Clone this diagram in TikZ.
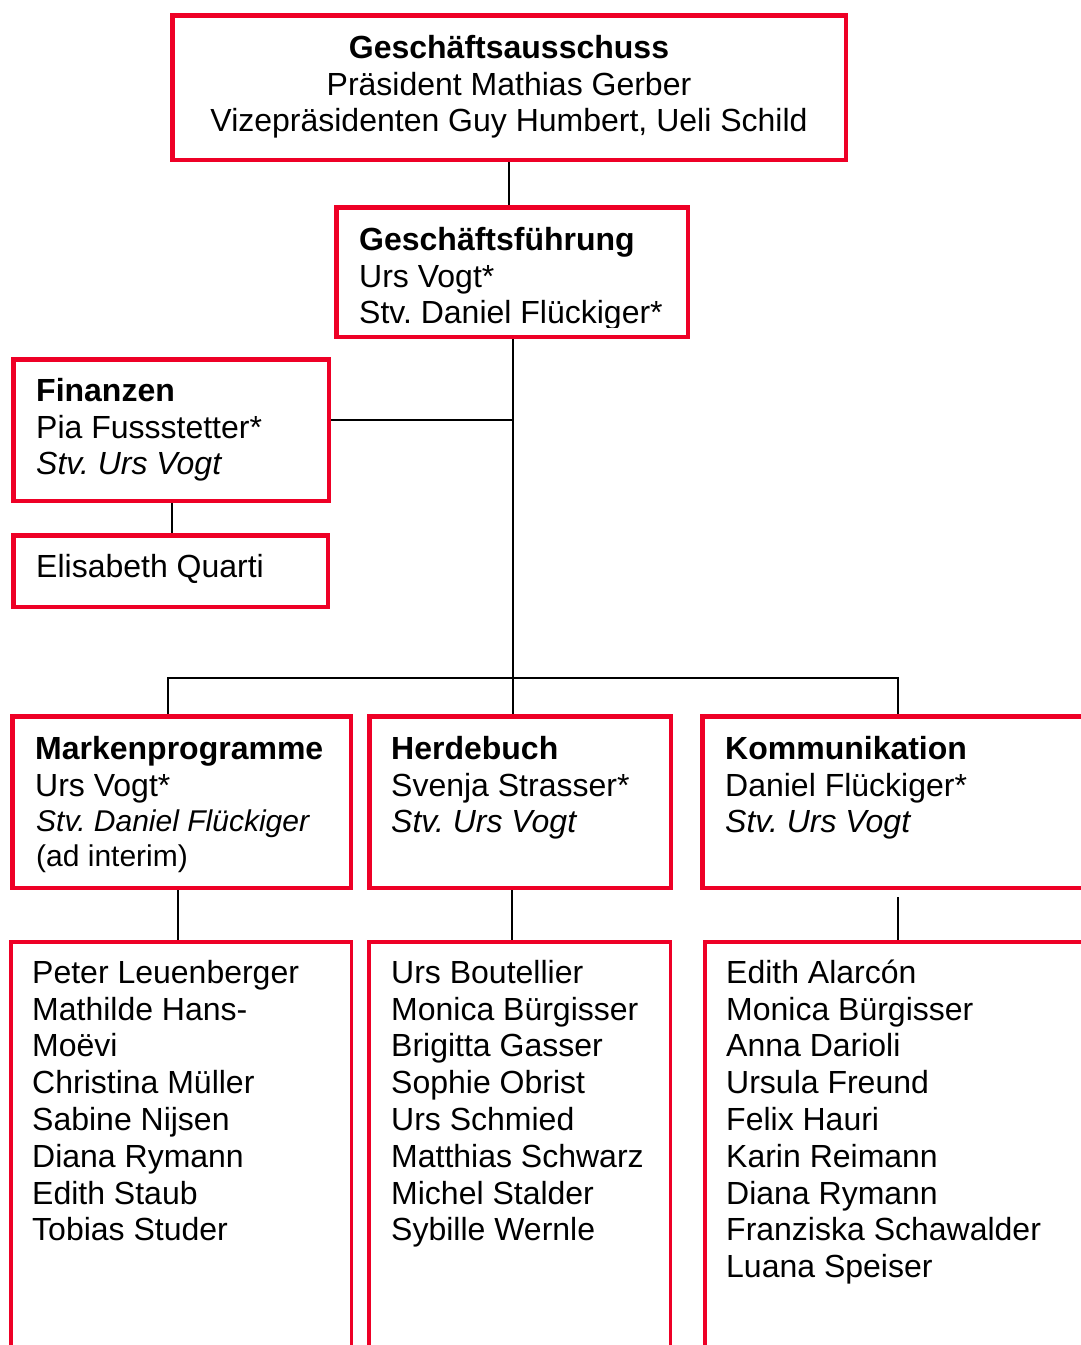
\documentclass[tikz,border=0pt]{standalone}
\usepackage{fontspec}
\setmainfont{Liberation Sans}
\frenchspacing
\definecolor{boxred}{RGB}{238,0,38}
\tikzset{
  box/.style={draw=boxred, line width=4.5pt, rectangle, inner sep=0pt},
  listbox/.style={draw=boxred, line width=3.5pt, rectangle, inner sep=0pt},
  conn/.style={draw=black, line width=2pt},
  txt/.style={inner sep=0pt, anchor=north west, align=left, font=\fontsize{32}{36.8}\selectfont},
  ctxt/.style={inner sep=0pt, anchor=north, align=center, font=\fontsize{32}{36.8}\selectfont},
  smtxt/.style={inner sep=0pt, anchor=north west, align=left, font=\fontsize{30}{35}\selectfont},
}
\begin{document}
\begin{tikzpicture}[x=1pt, y=-1pt]
\useasboundingbox (0,0) rectangle (1081,1345);
\clip (0,0) rectangle (1081,1345);

% boxes
\node[box, minimum width=673.5pt, minimum height=144.5pt] (gfa) at (509,87.5) {};
\node[box, minimum width=351.5pt, minimum height=129.5pt] (gf) at (512,272) {};
\node[box, minimum width=315.5pt, minimum height=141.5pt] (fin) at (171,430) {};
\node[box, minimum width=314.5pt, minimum height=71.5pt] (eq) at (170.5,571) {};
\node[box, minimum width=338.5pt, minimum height=171.5pt] (mp) at (181.5,802) {};
\node[box, minimum width=301.5pt, minimum height=171.5pt] (hb) at (520,802) {};
\node[box, minimum width=420pt, minimum height=171.5pt] (ko) at (912.25,802) {};
\node[listbox, minimum width=340.5pt, minimum height=478pt] (mpl) at (181,1180.75) {};
\node[listbox, minimum width=301.5pt, minimum height=478pt] (hbl) at (519.5,1180.75) {};
\node[listbox, minimum width=420pt, minimum height=478pt] (kol) at (914.75,1180.75) {};

% junction coordinates
\coordinate (finj) at (513,420);
\coordinate (barL) at (168,678);
\coordinate (barR) at (898,678);

% connectors
\draw[conn] (gfa.south) -- (gfa.south |- gf.north);
\draw[conn] ([xshift=1pt]gf.south) -- ([xshift=1pt]gf.south |- hb.north);
\draw[conn] (fin.east |- finj) -- (finj);
\draw[conn] ([xshift=1pt]fin.south) -- ([xshift=1pt]fin.south |- eq.north);
\draw[conn] (barL |- mp.north) -- (barL) -- (barR) -- (barR |- ko.north);
\draw[conn] ([xshift=-3.5pt]mp.south) -- ([xshift=-3.5pt]mp.south |- mpl.north);
\draw[conn] ([xshift=-8pt]hb.south) -- ([xshift=-8pt]hb.south |- hbl.north);
\draw[conn] ([yshift=-7pt]ko.south -| barR) -- (barR |- kol.north);

% texts
\node[ctxt] (gfa-t) at (509,32.24) {\strut\textbf{Geschäftsausschuss}\\Präsident Mathias Gerber\\Vizepräsidenten Guy Humbert, Ueli Schild};
\begin{scope}
\clip (340,210) rectangle (684,327);
\node[txt] (gf-t) at (359,224.24) {\strut\textbf{Geschäftsführung}\\Urs Vogt*\\Stv. Daniel Flückiger*};
\end{scope}
\node[txt] (fin-t) at (36,375.24) {\strut\textbf{Finanzen}\\Pia Fussstetter*\\\textit{Stv. Urs Vogt}};
\node[txt] (eq-t) at (36,551.24) {\strut Elisabeth Quarti};
\node[txt] (mp-t) at (35,733.24) {\strut\textbf{Markenprogramme}\\Urs Vogt*};
\node[smtxt] (mp-s) at (36,806.5) {\strut\textit{Stv. Daniel Flückiger}\\(ad interim)};
\node[txt] (hb-t) at (391,733.24) {\strut\textbf{Herdebuch}\\Svenja Strasser*\\\textit{Stv. Urs Vogt}};
\node[txt] (ko-t) at (725,733.24) {\strut\textbf{Kommunikation}\\Daniel Flückiger*\\\textit{Stv. Urs Vogt}};

\node[txt] (mpl-t) at (32,957.24) {\strut Peter Leuenberger\\Mathilde Hans-\\Moëvi\\Christina Müller\\Sabine Nijsen\\Diana Rymann\\Edith Staub\\Tobias Studer};
\node[txt] (hbl-t) at (391,957.24) {\strut Urs Boutellier\\Monica Bürgisser\\Brigitta Gasser\\Sophie Obrist\\Urs Schmied\\Matthias Schwarz\\Michel Stalder\\Sybille Wernle};
\node[txt] (kol-t) at (726,957.24) {\strut Edith Alarcón\\Monica Bürgisser\\Anna Darioli\\Ursula Freund\\Felix Hauri\\Karin Reimann\\Diana Rymann\\Franziska Schawalder\\Luana Speiser};
\end{tikzpicture}
\end{document}
